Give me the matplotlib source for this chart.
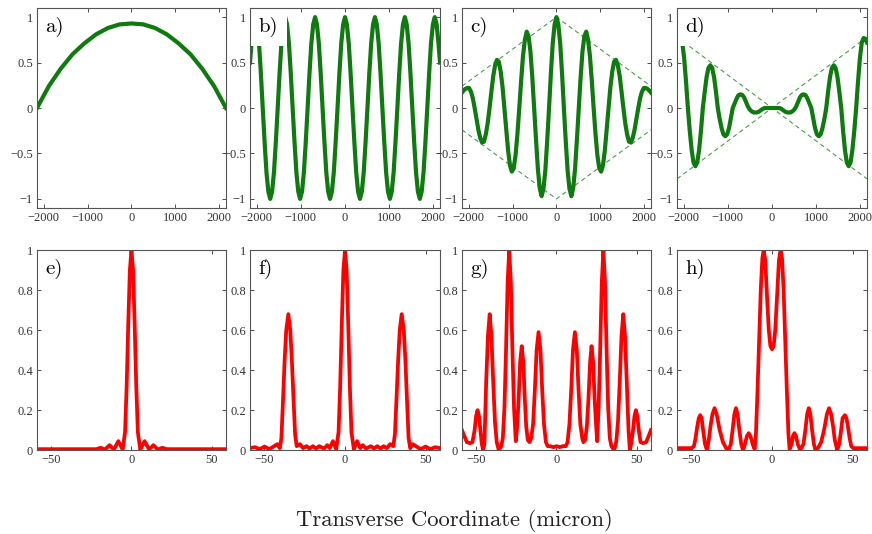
import matplotlib
matplotlib.use("Agg")
import matplotlib.pyplot as plt

# ---------------- data ----------------
# top row: field profiles vs transverse coordinate (micron)
X_A = [-2150, -1881, -1613, -1344, -1075, -806, -538, -269, 0,
       269, 538, 806, 1075, 1344, 1613, 1881, 2150]
Y_A = [0.0, 0.24, 0.43, 0.59, 0.71, 0.81, 0.88, 0.92, 0.93,
       0.92, 0.88, 0.81, 0.71, 0.59, 0.43, 0.24, 0.0]

X_TOP = ([-2150, -2116, -2073, -2031, -1989, -1946, -1904, -1862, -1819, -1777,
          -1735, -1693, -1650, -1608, -1566, -1523, -1481, -1439, -1396, -1354,
          -1312, -1269, -1227, -1185, -1142, -1100, -1058, -1016, -973, -931,
          -889, -846, -804, -762, -719, -677, -635, -592, -550, -508,
          -465, -423, -381, -339, -296, -254, -212, -169, -127, -85, -42]
         + [0]
         + [42, 85, 127, 169, 212, 254, 296, 339, 381, 423,
            465, 508, 550, 592, 635, 677, 719, 762, 804, 846,
            889, 931, 973, 1016, 1058, 1100, 1142, 1185, 1227, 1269,
            1312, 1354, 1396, 1439, 1481, 1523, 1566, 1608, 1650, 1693,
            1735, 1777, 1819, 1862, 1904, 1946, 1989, 2031, 2073, 2116, 2150])

Y_B = ([0.5, 0.71, 0.92, 1.0, 0.92, 0.71, 0.38, 0.0, -0.38, -0.71,
        -0.92, -1.0, -0.92, -0.71, -0.38, 0.0, 0.38, 0.71, 0.92, 1.0,
        0.92, 0.71, 0.38, 0.0, -0.38, -0.71, -0.92, -1.0, -0.92, -0.71,
        -0.38, 0.0, 0.38, 0.71, 0.92, 1.0, 0.92, 0.71, 0.38, 0.0,
        -0.38, -0.71, -0.92, -1.0, -0.92, -0.71, -0.38, 0.0, 0.38, 0.71, 0.92]
       + [1.0]
       + [0.92, 0.71, 0.38, 0.0, -0.38, -0.71, -0.92, -1.0, -0.92, -0.71,
          -0.38, 0.0, 0.38, 0.71, 0.92, 1.0, 0.92, 0.71, 0.38, 0.0,
          -0.38, -0.71, -0.92, -1.0, -0.92, -0.71, -0.38, 0.0, 0.38, 0.71,
          0.92, 1.0, 0.92, 0.71, 0.38, 0.0, -0.38, -0.71, -0.92, -1.0,
          -0.92, -0.71, -0.38, 0.0, 0.38, 0.71, 0.92, 1.0, 0.92, 0.71, 0.5])

Y_C = ([0.17, 0.19, 0.21, 0.22, 0.22, 0.18, 0.11, 0.0, -0.12, -0.24,
        -0.33, -0.38, -0.37, -0.29, -0.17, 0.0, 0.18, 0.35, 0.47, 0.53,
        0.51, 0.40, 0.23, 0.0, -0.24, -0.47, -0.63, -0.70, -0.66, -0.52,
        -0.29, 0.0, 0.30, 0.57, 0.75, 0.84, 0.79, 0.62, 0.34, 0.0,
        -0.35, -0.67, -0.88, -0.97, -0.89, -0.69, -0.37, 0.0, 0.38, 0.71, 0.92]
       + [1.0]
       + [0.92, 0.71, 0.38, 0.0, -0.37, -0.69, -0.89, -0.97, -0.88, -0.67,
          -0.35, 0.0, 0.34, 0.62, 0.79, 0.84, 0.75, 0.57, 0.30, 0.0,
          -0.29, -0.52, -0.66, -0.70, -0.63, -0.47, -0.24, 0.0, 0.23, 0.40,
          0.51, 0.53, 0.47, 0.35, 0.18, 0.0, -0.17, -0.29, -0.37, -0.38,
          -0.33, -0.24, -0.12, 0.0, 0.11, 0.18, 0.22, 0.22, 0.21, 0.19, 0.17])

Y_D = ([0.72, 0.76, 0.77, 0.72, 0.55, 0.29, 0.0, -0.25, -0.46, -0.60,
        -0.64, -0.60, -0.46, -0.25, 0.0, 0.18, 0.34, 0.44, 0.47, 0.44,
        0.34, 0.18, 0.0, -0.12, -0.22, -0.29, -0.31, -0.29, -0.22, -0.11,
        0.0, 0.05, 0.10, 0.14, 0.15, 0.145, 0.12, 0.07, 0.02, -0.015,
        -0.035, -0.048, -0.05, -0.048, -0.04, -0.025, -0.01, 0.0, 0.0, 0.0, 0.0]
       + [0.0]
       + [0.0, 0.0, 0.0, 0.0, -0.01, -0.025, -0.04, -0.048, -0.05, -0.048,
          -0.035, -0.015, 0.02, 0.07, 0.12, 0.145, 0.15, 0.14, 0.10, 0.05,
          0.0, -0.11, -0.22, -0.29, -0.31, -0.29, -0.22, -0.12, 0.0, 0.18,
          0.34, 0.44, 0.47, 0.44, 0.34, 0.18, 0.0, -0.25, -0.46, -0.60,
          -0.64, -0.60, -0.46, -0.25, 0.0, 0.29, 0.55, 0.72, 0.77, 0.76, 0.72])

# dashed envelopes
ENV_C_X = [-2150, 0, 2150]
ENV_C_UP = [0.24, 1.0, 0.24]
ENV_C_LO = [-0.24, -1.0, -0.24]
ENV_D_X = [-2150, 2150]
ENV_D_1 = [0.78, -0.78]
ENV_D_2 = [-0.78, 0.78]

# bottom row: intensity profiles
X_E = [-59, -22, -19.2, -16.5, -13.7, -11, -8.2, -5.5, -4, -3, -2, -1, 0,
       1, 2, 3, 4, 5.5, 8.2, 11, 13.7, 16.5, 19.2, 22, 59]
Y_E = [0.005, 0.005, 0.012, 0.003, 0.025, 0.003, 0.045, 0.003, 0.09, 0.32, 0.63, 0.9, 1.0,
       0.9, 0.63, 0.32, 0.09, 0.003, 0.045, 0.003, 0.025, 0.003, 0.012, 0.005, 0.005]

X_F = [-59, -56, -53, -50, -47, -44, -42, -40.5, -39.5, -38.5, -37.5, -36.5, -35.2,
       -34, -33, -32, -31, -30, -28, -26, -24, -22, -20, -18, -16, -13, -11,
       -9.5, -7.5, -5.5, -4, -3, -2, -1, 0, 1, 2, 3, 4, 5.5, 7.5, 9.5,
       11, 13, 16, 18, 20, 22, 24, 26, 28, 30, 31, 32, 33, 34, 35.2, 36.5,
       37.5, 38.5, 39.5, 40.5, 42, 44, 47, 50, 53, 56, 59]
Y_F = [0.01, 0.015, 0.005, 0.018, 0.005, 0.02, 0.03, 0.01, 0.06, 0.25, 0.45, 0.6, 0.68,
       0.6, 0.45, 0.26, 0.08, 0.02, 0.03, 0.01, 0.02, 0.008, 0.02, 0.008, 0.02, 0.008, 0.025,
       0.01, 0.045, 0.005, 0.09, 0.32, 0.63, 0.9, 1.0, 0.9, 0.63, 0.32, 0.09, 0.005, 0.045, 0.01,
       0.025, 0.008, 0.02, 0.008, 0.02, 0.008, 0.02, 0.01, 0.03, 0.02, 0.08, 0.26, 0.45, 0.6, 0.68, 0.6,
       0.45, 0.25, 0.06, 0.01, 0.03, 0.02, 0.005, 0.018, 0.005, 0.015, 0.01]

X_G = [-59, -57, -56, -54, -52.5, -51.1, -50.2, -49.3, -48.4, -47.5, -46.6, -45.8,
       -45, -43.9, -42.8, -41.7, -40.6, -39.5, -38.4, -37.3, -36, -34.5,
       -33.5, -32.5, -31.5, -30.5, -29.5, -28.5, -27.5, -26.5, -25.4,
       -24.5, -23.6, -22.7, -21.7, -20.7, -19.8, -18.9, -17.9, -16.8,
       -15.8, -14.6, -13.5, -12.4, -11.2, -10, -8.9, -7.8, -6.6, -5.5,
       -4, -2, 0, 2, 4, 5.8,
       6.9, 8.1, 9.2, 10.3, 11.5, 12.7, 13.8, 14.9, 16.1, 16.8,
       17.9, 19, 20, 21, 21.9, 22.9, 23.8, 24.8, 25.4,
       26.3, 27.3, 28.3, 29.3, 30.3, 31.3, 32.3, 33.3, 34.3, 36,
       37.3, 38.4, 39.5, 40.6, 41.7, 42.8, 43.9, 45, 45.8,
       46.6, 47.8, 48.7, 49.6, 50.5, 51.4, 52.5, 54, 56, 57, 59]
Y_G = [0.1, 0.06, 0.04, 0.035, 0.04, 0.1, 0.17, 0.2, 0.17, 0.1, 0.03, 0.0,
       0.03, 0.34, 0.57, 0.68, 0.57, 0.34, 0.14, 0.04, 0.0, 0.02,
       0.06, 0.21, 0.5, 0.84, 1.0, 0.84, 0.5, 0.21, 0.045,
       0.12, 0.26, 0.44, 0.52, 0.44, 0.26, 0.12, 0.05, 0.04,
       0.06, 0.13, 0.3, 0.5, 0.59, 0.5, 0.3, 0.13, 0.04, 0.02,
       0.02, 0.015, 0.02, 0.015, 0.02, 0.02,
       0.04, 0.13, 0.3, 0.5, 0.59, 0.5, 0.3, 0.13, 0.06, 0.04,
       0.05, 0.12, 0.26, 0.44, 0.52, 0.44, 0.26, 0.12, 0.045,
       0.21, 0.5, 0.84, 1.0, 0.84, 0.5, 0.21, 0.06, 0.02, 0.0,
       0.04, 0.14, 0.34, 0.57, 0.68, 0.57, 0.34, 0.1, 0.0,
       0.03, 0.1, 0.17, 0.2, 0.17, 0.1, 0.04, 0.035, 0.04, 0.06, 0.1]

X_H = [-59, -50, -48.5, -47.5, -46.4, -45.5, -44.6, -43.7, -42.8, -41.6, -40.4,
       -39.3, -38.2, -37, -35.7, -34.4, -32.5, -30.5, -28.5, -27,
       -25.6, -24.5, -23.4, -22.4, -21.4, -20.3, -19.1, -18,
       -16.8, -15.6, -14.5, -13.4, -12, -10.8,
       -10, -9, -8, -7, -6, -5.2, -4.2, -3, -2, -1, 0, 1, 2, 3, 4.3, 5.3, 6.2,
       7.2, 8.2, 9.2, 10.2, 10.9,
       12.2, 13, 13.9, 14.9, 16, 17.5,
       19.5, 20.7, 21.8, 22.8, 23.8, 24.9, 26, 27,
       28.5, 30.5, 32.3, 34.1, 35.4, 36.7, 37.9, 39, 40.5,
       41.7, 42.9, 43.8, 45.3, 46.2, 47.1, 48.2, 49.2, 50.5, 59]
Y_H = [0.01, 0.01, 0.02, 0.06, 0.12, 0.16, 0.175, 0.16, 0.1, 0.03, 0.0,
       0.05, 0.12, 0.18, 0.21, 0.18, 0.1, 0.04, 0.01, 0.0,
       0.03, 0.1, 0.18, 0.21, 0.18, 0.1, 0.03, 0.0,
       0.03, 0.07, 0.085, 0.07, 0.03, 0.005,
       0.08, 0.3, 0.55, 0.8, 0.96, 1.0, 0.95, 0.75, 0.6, 0.52, 0.505, 0.52, 0.6, 0.75, 0.95, 1.0, 0.96,
       0.8, 0.55, 0.3, 0.08, 0.005,
       0.03, 0.07, 0.085, 0.07, 0.03, 0.0,
       0.03, 0.1, 0.18, 0.21, 0.18, 0.1, 0.03, 0.0,
       0.01, 0.04, 0.1, 0.18, 0.21, 0.18, 0.12, 0.05, 0.0,
       0.03, 0.1, 0.16, 0.175, 0.16, 0.12, 0.06, 0.02, 0.01, 0.01]

TOP_XTICKS = [-2000, -1000, 0, 1000, 2000]
TOP_XLABELS = ['\u22122000', '\u22121000', '0', '1000', '2000']
TOP_YTICKS = [-1, -0.5, 0, 0.5, 1]
TOP_YLABELS = ['\u22121', '\u22120.5', '0', '0.5', '1']
BOT_XTICKS = [-50, 0, 50]
BOT_XLABELS = ['\u221250', '0', '50']
BOT_YTICKS = [0, 0.2, 0.4, 0.6, 0.8, 1]
BOT_YLABELS = ['0', '0.2', '0.4', '0.6', '0.8', '1']

GREEN = '#0f7a0f'
GREEN_DASH = '#4c9c4c'
RED = '#ff0000'
TICK_FONT = 'Liberation Serif'
LABEL_FONT = 'cmr10'

# axes positions in figure fraction
COL_LEFT = [0.0424, 0.2867, 0.5298, 0.7764]
COL_WIDTH = [0.2167, 0.2179, 0.2167, 0.2179]
ROW_BOTTOM = [0.6105, 0.157]
ROW_HEIGHT = 0.3745


def style_axes(ax, xticks, xlabels, yticks, ylabels):
    """MATLAB-like box with inward ticks on all sides"""
    ax.set_xticks(xticks)
    ax.set_xticklabels(xlabels, fontfamily=TICK_FONT, fontsize=9)
    ax.set_yticks(yticks)
    ax.set_yticklabels(ylabels, fontfamily=TICK_FONT, fontsize=9)
    ax.tick_params(direction='in', length=3, width=0.6, top=True, right=True,
                   colors='#333333', pad=3)
    for sp in ax.spines.values():
        sp.set_color('#555555')
        sp.set_linewidth(0.8)
        sp.set_zorder(5)


def panel_label(ax, text):
    # white box behind the label hides the curve underneath, frame stays on top
    ax.text(0.045, 0.955, text, transform=ax.transAxes, ha='left', va='top',
            fontsize=15, fontfamily=LABEL_FONT, zorder=3,
            bbox=dict(boxstyle='square,pad=0.45', facecolor='white', edgecolor='none'))


fig = plt.figure(figsize=(8.72, 5.34), dpi=100)

top_data = [
    ('a)', X_A, Y_A, None),
    ('b)', X_TOP, Y_B, None),
    ('c)', X_TOP, Y_C, 'c'),
    ('d)', X_TOP, Y_D, 'd'),
]
for i, (lab, xs, ys, env) in enumerate(top_data):
    ax = fig.add_axes([COL_LEFT[i], ROW_BOTTOM[0], COL_WIDTH[i], ROW_HEIGHT])
    if env == 'c':
        ax.plot(ENV_C_X, ENV_C_UP, color=GREEN_DASH, lw=0.8, dashes=(4, 3))
        ax.plot(ENV_C_X, ENV_C_LO, color=GREEN_DASH, lw=0.8, dashes=(4, 3))
    elif env == 'd':
        ax.plot(ENV_D_X, ENV_D_1, color=GREEN_DASH, lw=0.8, dashes=(4, 3))
        ax.plot(ENV_D_X, ENV_D_2, color=GREEN_DASH, lw=0.8, dashes=(4, 3))
    ax.plot(xs, ys, color=GREEN, lw=3.0, solid_joinstyle='round')
    ax.set_xlim(-2150, 2150)
    ax.set_ylim(-1.1, 1.1)
    style_axes(ax, TOP_XTICKS, TOP_XLABELS, TOP_YTICKS, TOP_YLABELS)
    panel_label(ax, lab)

bottom_data = [
    ('e)', X_E, Y_E),
    ('f)', X_F, Y_F),
    ('g)', X_G, Y_G),
    ('h)', X_H, Y_H),
]
for i, (lab, xs, ys) in enumerate(bottom_data):
    ax = fig.add_axes([COL_LEFT[i], ROW_BOTTOM[1], COL_WIDTH[i], ROW_HEIGHT])
    ax.plot(xs, ys, color=RED, lw=2.7, solid_joinstyle='round')
    ax.set_xlim(-59, 59)
    ax.set_ylim(0, 1)
    style_axes(ax, BOT_XTICKS, BOT_XLABELS, BOT_YTICKS, BOT_YLABELS)
    panel_label(ax, lab)

fig.text(0.521, 0.026, 'Transverse Coordinate (micron)', ha='center', va='center',
         fontsize=16.3, fontfamily=LABEL_FONT, color='#222222')

fig.savefig('out.png', dpi=100)
